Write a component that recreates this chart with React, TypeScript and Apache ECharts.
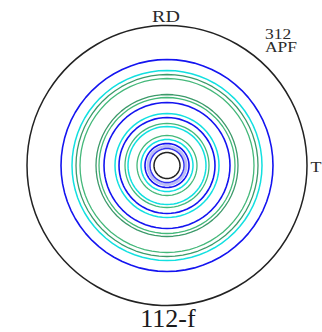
import React, { useEffect, useRef } from "react";
import * as echarts from "echarts";

// Contour levels: radius (in pole-figure radius units, outer circle = 140) and colour
const CONTOUR_RADII = [106, 95, 91, 87, 71, 68, 63, 52, 48, 42, 39, 30, 26, 22, 19, 17, 13];
const CONTOUR_COLORS = [
  "#1414f0", "#12e0e0", "#3c9a6a", "#44b87a", "#3c9a6a", "#44b87a", "#1414f0",
  "#12e0e0", "#1414f0", "#44b87a", "#12e0e0", "#44b87a", "#12e0e0", "#1414f0",
  "#bcbcf6", "#3030f0", "#222222",
];
const CONTOUR_WIDTHS = [1.6, 1.5, 1.3, 1.3, 1.3, 1.3, 1.6, 1.5, 1.6, 1.3, 1.5, 1.3, 1.5, 1.6, 3, 1.4, 1.5];
const OUTER_RADIUS = 140;
// angular sampling of each contour (degrees)
const ANGLES = Array.from({ length: 73 }, (_, i) => i * 5);

const LABEL_TOP = "RD";
const LABEL_RIGHT = "T";
const LABEL_INFO = ["312", "APF"];
const LABEL_TITLE = "112-f";

export default function App() {
  const ref = useRef<HTMLDivElement>(null);
  useEffect(() => {
    if (!ref.current) return;
    const chart = echarts.init(ref.current, undefined, { renderer: "svg" });
    const font = "'Liberation Serif', 'Times New Roman', serif";
    chart.setOption({
      animation: false,
      polar: { center: [167, 165.5], radius: OUTER_RADIUS },
      angleAxis: {
        type: "value",
        min: 0,
        max: 360,
        startAngle: 90,
        axisLine: { show: true, lineStyle: { color: "#222", width: 1.5 } },
        axisTick: { show: false },
        axisLabel: { show: false },
        splitLine: { show: false },
      },
      radiusAxis: {
        type: "value",
        min: 0,
        max: OUTER_RADIUS,
        axisLine: { show: false },
        axisTick: { show: false },
        axisLabel: { show: false },
        splitLine: { show: false },
      },
      series: CONTOUR_RADII.map((r, i) => ({
        type: "line",
        coordinateSystem: "polar",
        showSymbol: false,
        silent: true,
        z: i === 14 ? 1 : 2,
        data: ANGLES.map((a) => [r, a]),
        lineStyle: { color: CONTOUR_COLORS[i], width: CONTOUR_WIDTHS[i] },
      })),
      graphic: [
        {
          type: "text", x: 166, y: 17, scaleX: 1.25,
          style: { text: LABEL_TOP, font: `16px ${font}`, fill: "#2a2a2a", align: "center", verticalAlign: "middle" },
        },
        {
          type: "text", x: 265, y: 34, scaleX: 1.25,
          style: { text: LABEL_INFO[0], font: `14px ${font}`, fill: "#2a2a2a", align: "left", verticalAlign: "middle" },
        },
        {
          type: "text", x: 265, y: 47.5, scaleX: 1.25,
          style: { text: LABEL_INFO[1], font: `14px ${font}`, fill: "#2a2a2a", align: "left", verticalAlign: "middle" },
        },
        {
          type: "text", x: 316, y: 167, scaleX: 1.2,
          style: { text: LABEL_RIGHT, font: `15px ${font}`, fill: "#2a2a2a", align: "center", verticalAlign: "middle" },
        },
        {
          type: "text", x: 168, y: 318,
          style: { text: LABEL_TITLE, font: `26px ${font}`, fill: "#1a1a1a", align: "center", verticalAlign: "middle" },
        },
      ],
    });
    return () => chart.dispose();
  }, []);
  return (
    <div
      ref={ref}
      style={{ position: "fixed", left: 0, top: 0, width: 322, height: 332, background: "#fff" }}
    />
  );
}
